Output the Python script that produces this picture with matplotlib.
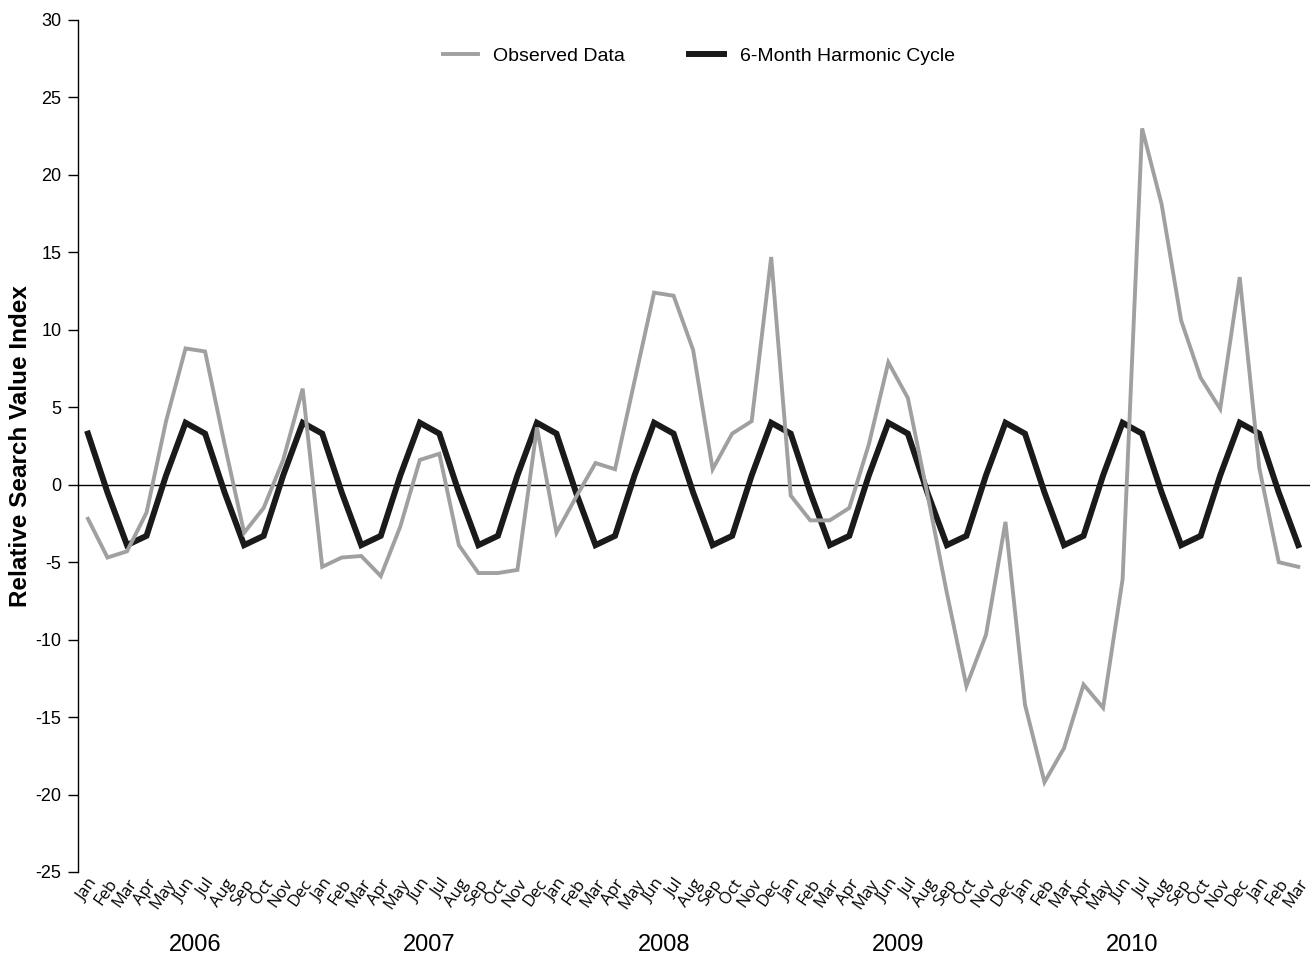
import matplotlib
matplotlib.use("Agg")
import matplotlib.pyplot as plt
import matplotlib.transforms as mtransforms

# monthly series, Jan 2006 .. Mar 2011
months = (["Jan", "Feb", "Mar", "Apr", "May", "Jun",
           "Jul", "Aug", "Sep", "Oct", "Nov", "Dec"] * 5
          + ["Jan", "Feb", "Mar"])
years = ["2006", "2007", "2008", "2009", "2010"]

observed = [
    -2.2, -4.7, -4.3, -1.8, 4.1, 8.8, 8.6, 2.6, -3.1, -1.5, 1.6, 6.2,      # 2006
    -5.3, -4.7, -4.6, -5.9, -2.7, 1.6, 2.0, -3.9, -5.7, -5.7, -5.5, 3.7,   # 2007
    -3.1, -0.8, 1.4, 1.0, 6.7, 12.4, 12.2, 8.7, 1.0, 3.3, 4.1, 14.7,       # 2008
    -0.7, -2.3, -2.3, -1.5, 2.6, 7.9, 5.6, -0.6, -7.0, -13.0, -9.7, -2.4,  # 2009
    -14.2, -19.2, -17.0, -12.9, -14.4, -6.1, 23.0, 18.1, 10.6, 6.9, 4.9, 13.4,  # 2010
    1.1, -5.0, -5.3,                                                       # 2011
]

harmonic = [
    3.3, -0.5, -3.9, -3.3, 0.6, 4.0, 3.3, -0.5, -3.9, -3.3, 0.6, 4.0,
    3.3, -0.5, -3.9, -3.3, 0.6, 4.0, 3.3, -0.5, -3.9, -3.3, 0.6, 4.0,
    3.3, -0.5, -3.9, -3.3, 0.6, 4.0, 3.3, -0.5, -3.9, -3.3, 0.6, 4.0,
    3.3, -0.5, -3.9, -3.3, 0.6, 4.0, 3.3, -0.5, -3.9, -3.3, 0.6, 4.0,
    3.3, -0.5, -3.9, -3.3, 0.6, 4.0, 3.3, -0.5, -3.9, -3.3, 0.6, 4.0,
    3.3, -0.5, -3.9,
]

plt.rcParams['font.family'] = ['Liberation Sans', 'DejaVu Sans']
plt.rcParams['axes.unicode_minus'] = False

fig = plt.figure(figsize=(13.12, 9.6), dpi=100)
ax = fig.add_axes([78 / 1312, 88 / 960, 1232 / 1312, 852 / 960])

x = list(range(len(observed)))
ax.axhline(0, color='black', lw=1.0, zorder=1)
ax.plot(x, harmonic, color='#1a1a1a', lw=4.3, solid_joinstyle='miter',
        label='6-Month Harmonic Cycle', zorder=2)
ax.plot(x, observed, color='#a0a0a0', lw=2.8, solid_joinstyle='miter',
        label='Observed Data', zorder=3)

ax.set_xlim(-0.51, 62.6)
ax.set_ylim(-25, 30)
ax.set_yticks(range(-25, 31, 5))
ax.tick_params(axis='y', direction='out', length=7, width=1, labelsize=13, pad=5)

for s in ['top', 'right', 'bottom']:
    ax.spines[s].set_visible(False)
ax.spines['left'].set_linewidth(1.0)

ax.set_xticks(x)
ax.set_xticklabels(months, rotation=55, ha='right', rotation_mode='anchor',
                   fontsize=12, family=['Open Sans', 'DejaVu Sans'])
ax.tick_params(axis='x', length=0, pad=3)

ax.set_ylabel('Relative Search Value Index', fontsize=17.5, fontweight='bold')
ax.yaxis.set_label_coords(-0.037, 0.5)

trans = mtransforms.blended_transform_factory(ax.transData, ax.transAxes)
for k, yr in enumerate(years):
    ax.text(12 * k + 5.5, -0.086, yr, transform=trans, ha='center', va='center',
            fontsize=17)

h, l = ax.get_legend_handles_labels()
ax.legend(h[::-1], l[::-1], loc='center', bbox_to_anchor=(0.504, 0.958),
          ncol=2, frameon=False, fontsize=14, handlelength=1.8,
          columnspacing=3.3, handletextpad=0.8)

fig.savefig('out.png', dpi=100)
